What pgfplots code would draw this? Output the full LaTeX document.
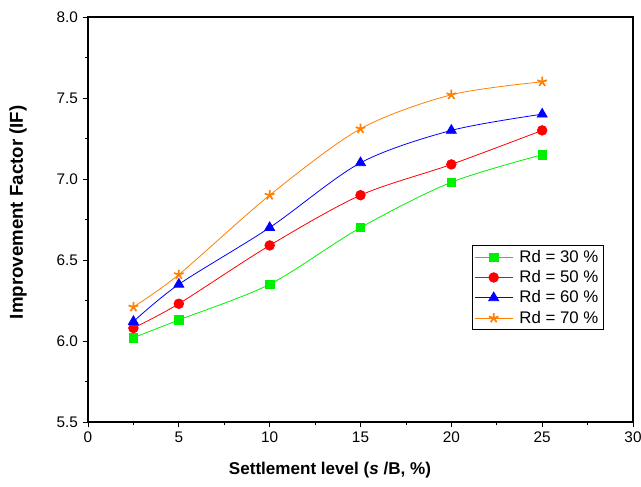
\documentclass[border=0pt]{standalone}
\usepackage{pgfplots}
\pgfplotsset{compat=1.18}
\usepackage{fontspec}
\setmainfont{Liberation Sans}
\definecolor{cgreen}{RGB}{0,240,0}
\definecolor{cred}{RGB}{255,0,0}
\definecolor{cblue}{RGB}{0,0,255}
\definecolor{corange}{RGB}{255,128,0}
\begin{document}
\begin{tikzpicture}
\begin{axis}[
    scale only axis,
    width=408.75pt,
    height=303.75pt,
    xmin=0, xmax=30,
    ymin=5.5, ymax=8.0,
    xtick={0,5,...,30},
    ytick={5.5,6.0,...,8.0},
    minor x tick num=1,
    minor y tick num=1,
    xtick pos=left, ytick pos=left,
    tick align=outside,
    major tick length=4pt,
    minor tick length=2.5pt,
    tick style={black, line width=0.6pt},
    axis line style={line width=0.8pt},
    /pgf/number format/assume math mode=true,
    yticklabel style={/pgf/number format/.cd, fixed, fixed zerofill, precision=1},
    ticklabel style={font=\fontsize{11.5}{13}\selectfont},
    xlabel={\textbf{Settlement level (\textit{s} /B, \%)}},
    ylabel={\textbf{Improvement Factor (IF)}},
    xlabel style={font=\fontsize{12.8}{15}\selectfont, at={(axis description cs:0.444,-0.1185)}, anchor=center},
    ylabel style={font=\fontsize{14}{16}\selectfont, at={(axis description cs:-0.1285,0.518)}, anchor=center},
    legend style={at={(0.705,0.437)}, anchor=north west, font=\fontsize{12.6}{15}\selectfont,
        draw=black, line width=0.6pt, row sep=0.6pt, column sep=3pt, inner sep=1.5pt},
    legend cell align=left,
    legend image code/.code={
        \draw[mark repeat=2, mark phase=2] plot coordinates {(0pt,0pt) (14pt,0pt) (28pt,0pt)};
    },
    every axis plot/.append style={line width=0.6pt, mark size=3.2pt},
]
\addplot[cgreen, smooth, mark=square*, mark options={solid, fill=cgreen}] coordinates {
    (2.5,6.02) (5,6.13) (10,6.35) (15,6.70) (20,6.98) (25,7.15)};
\addlegendentry{Rd = 30 \%}
\addplot[cred, smooth, mark=*, mark options={fill=cred}, mark size=3.6pt] coordinates {
    (2.5,6.08) (5,6.23) (10,6.59) (15,6.90) (20,7.09) (25,7.30)};
\addlegendentry{Rd = 50 \%}
\addplot[cblue, smooth, mark=triangle*, mark options={fill=cblue}, mark size=4.3pt] coordinates {
    (2.5,6.12) (5,6.35) (10,6.70) (15,7.10) (20,7.30) (25,7.40)};
\addlegendentry{Rd = 60 \%}
\addplot[corange, smooth, mark=star, mark options={line width=1.3pt}, mark size=3.8pt] coordinates {
    (2.5,6.21) (5,6.41) (10,6.90) (15,7.31) (20,7.52) (25,7.60)};
\addlegendentry{Rd = 70 \%}
\end{axis}
\pgfresetboundingbox
\path[use as bounding box] (-66pt,-48pt) rectangle (414.75pt,316.5pt);
\end{tikzpicture}
\end{document}
